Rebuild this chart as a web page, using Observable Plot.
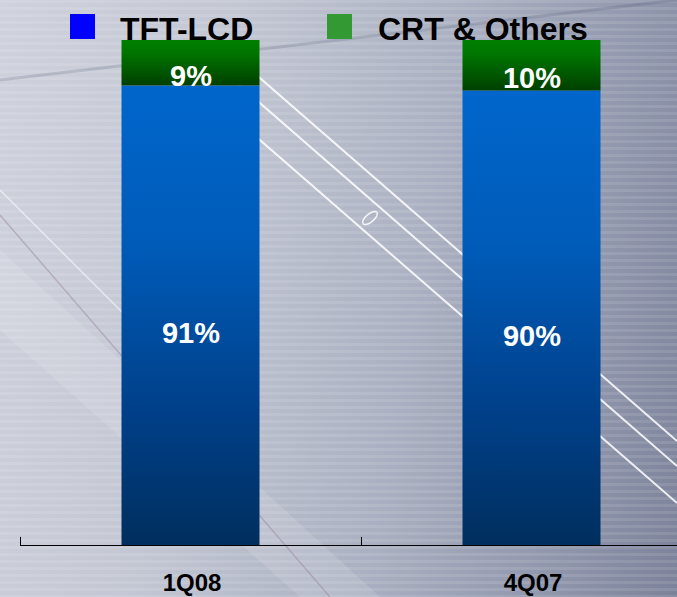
<!DOCTYPE html>
<html>
<head>
<meta charset="utf-8">
<script src="https://cdn.jsdelivr.net/npm/d3@7"></script>
<script src="https://cdn.jsdelivr.net/npm/@observablehq/plot@0.6"></script>
<style>
  html, body { margin: 0; padding: 0; }
  body { width: 677px; height: 597px; overflow: hidden; font-family: "Liberation Sans", Arial, sans-serif; }
  #wrap {
    position: relative; width: 677px; height: 597px; overflow: hidden;
    background:
      repeating-linear-gradient(180deg, rgba(255,255,255,0.10) 0px, rgba(255,255,255,0.10) 3px, rgba(255,255,255,0) 3px, rgba(255,255,255,0) 7px),
      linear-gradient(100deg, #cfd2dc 0%, #c3c7d3 30%, #aab0c1 60%, #8e94aa 85%, #7c8299 100%);
  }
  #deco { position: absolute; left: 0; top: 0; }
  #chart { position: absolute; left: 0; top: 0; }
  #legend { position: absolute; left: 0; top: 0; width: 677px; height: 45px; }
  .sw { position: absolute; top: 14px; width: 25px; height: 25px; }
  .lt { position: absolute; top: 12px; font-size: 32px; font-weight: bold; color: #000; line-height: 34px; white-space: nowrap; }
</style>
</head>
<body>
<div id="wrap">
  <svg id="deco" width="677" height="597">
    <polygon points="0,250 0,330 300,597 380,597" fill="rgba(255,255,255,0.12)"/>
    <line x1="0" y1="190" x2="140" y2="330" stroke="rgba(255,255,255,0.55)" stroke-width="1.5"/>
    <line x1="0" y1="215" x2="330" y2="597" stroke="rgba(150,130,160,0.45)" stroke-width="1.5"/>
    <line x1="230" y1="52" x2="677" y2="441" stroke="rgba(255,255,255,0.85)" stroke-width="2"/>
    <line x1="230" y1="77" x2="677" y2="466" stroke="rgba(255,255,255,0.85)" stroke-width="2"/>
    <line x1="230" y1="114" x2="677" y2="503" stroke="rgba(255,255,255,0.85)" stroke-width="2"/>
    <ellipse cx="370" cy="218" rx="9" ry="4" transform="rotate(-40 370 218)" fill="none" stroke="rgba(255,255,255,0.85)" stroke-width="1.5"/>
    <line x1="0" y1="80" x2="677" y2="0" stroke="rgba(60,70,100,0.18)" stroke-width="3"/>
  </svg>
  <div id="chart"></div>
  <div id="legend">
    <div class="sw" style="left:70px;background:#0000ff"></div>
    <div class="lt" style="left:120px">TFT-LCD</div>
    <div class="sw" style="left:327px;background:#339933"></div>
    <div class="lt" style="left:378px">CRT &amp; Others</div>
  </div>
</div>
<script>
// ---- data ----
const quarters = ["1Q08", "4Q07"];
const series = ["TFT-LCD", "CRT & Others"];
const tftLcd = [91, 90];
const crtOthers = [9, 10];

const data = [];
quarters.forEach((q, i) => {
  data.push({q, series: series[0], value: tftLcd[i]});
  data.push({q, series: series[1], value: crtOthers[i]});
});
const labels = [];
quarters.forEach((q, i) => {
  labels.push({q, series: series[0], mid: tftLcd[i] / 2, text: tftLcd[i] + "%"});
  labels.push({q, series: series[1], mid: tftLcd[i] + crtOthers[i] / 2, text: crtOthers[i] + "%"});
});

const X0 = 20, X1 = 702;
const step = (X1 - X0) / quarters.length;
const barW = 138;
const inset = (step - barW) / 2;

const chart = Plot.plot({
  width: 677,
  height: 597,
  marginLeft: 20,
  marginRight: 0,
  marginTop: 40,
  marginBottom: 52,
  x: {domain: quarters, range: [X0, X1], padding: 0, axis: null},
  y: {domain: [0, 100], range: [545, 40], axis: null},
  color: {domain: series, range: ["#0066cc", "#008000"]},
  style: {background: "transparent", overflow: "visible", fontFamily: "'Liberation Sans', Arial, sans-serif"},
  marks: [
    Plot.barY(data, {x: "q", y: "value", fill: "series", insetLeft: inset, insetRight: inset, order: series}),
    Plot.ruleY([0], {stroke: "#000", strokeWidth: 1.2}),
    Plot.ruleX(quarters, {x: d => d, dx: -step / 2, y1: 0, y2: 1.6, stroke: "#000", strokeWidth: 1}),
    Plot.text(labels.filter(d => d.series === series[0]), {x: "q", y: "mid", text: "text", fill: "white", fontSize: 29, fontWeight: "bold", dy: 18}),
    Plot.text(labels.filter(d => d.series === series[1]), {x: "q", y: "mid", text: "text", fill: "white", fontSize: 29, fontWeight: "bold", dy: 13}),
    Plot.text(quarters, {x: d => d, y: 0, text: d => d, fill: "#000", fontSize: 24, fontWeight: "bold", dy: 38, dx: 1})
  ]
});

// gradients
const svg = d3.select(chart);
const defs = svg.insert("defs", ":first-child");
const gb = defs.append("linearGradient").attr("id", "gBlue").attr("x1", 0).attr("y1", 0).attr("x2", 0).attr("y2", 1);
gb.append("stop").attr("offset", "0%").attr("stop-color", "#0066cc");
gb.append("stop").attr("offset", "35%").attr("stop-color", "#005bb8");
gb.append("stop").attr("offset", "70%").attr("stop-color", "#00408a");
gb.append("stop").attr("offset", "100%").attr("stop-color", "#002f5e");
const gg = defs.append("linearGradient").attr("id", "gGreen").attr("x1", 0).attr("y1", 0).attr("x2", 0).attr("y2", 1);
gg.append("stop").attr("offset", "0%").attr("stop-color", "#008000");
gg.append("stop").attr("offset", "30%").attr("stop-color", "#007400");
gg.append("stop").attr("offset", "100%").attr("stop-color", "#003f00");
svg.selectAll("rect").each(function() {
  const f = (this.getAttribute("fill") || "").toLowerCase();
  if (f === "#0066cc") this.setAttribute("fill", "url(#gBlue)");
  else if (f === "#008000") this.setAttribute("fill", "url(#gGreen)");
});
document.getElementById("chart").appendChild(chart);
</script>
</body>
</html>
